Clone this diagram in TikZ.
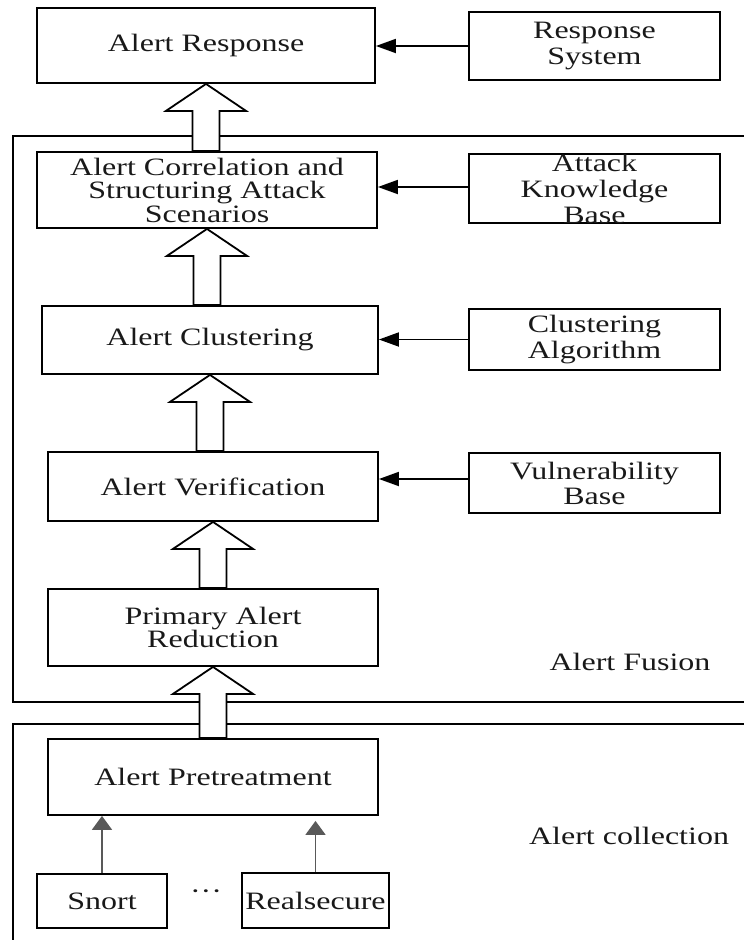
\documentclass[tikz,border=0pt]{standalone}
\usepackage{fontspec}
\setmainfont{Liberation Serif}[FakeStretch=1.28]
\usetikzlibrary{arrows.meta}

% hollow block arrow from the top of #1 up to the bottom of #2
\newcommand\hollowup[2]{%
  \path (#2.south) ++(13.5,27) coordinate (hR)
        (#2.south) ++(-13.5,27) coordinate (hL);
  \draw[hollow] (#2.south) -- ++(40,27) -- (hR) -- (hR |- #1.north)
    -- (hL |- #1.north) -- (hL) -- ++(-26.5,0) -- cycle;
}

\begin{document}
\begin{tikzpicture}[x=1pt,y=-1pt,
  every node/.style={font=\fontsize{25}{25}\selectfont, text=black!90},
  box/.style={draw, line width=1.8pt, inner sep=0pt, align=center},
  frameline/.style={line width=1.8pt},
  feed/.style={line width=1.8pt, -{Triangle[length=20pt,width=14pt]}},
  srcfeed/.style={line width=1.8pt, color=black!65, -{Triangle[length=14pt,width=20pt]}},
  hollow/.style={line width=1.8pt, fill=white, line join=miter},
]
\useasboundingbox (0,0) rectangle (744,940);

% group frames
\draw[frameline] (744,136) -- (13,136) -- (13,702) -- (744,702);
\draw[frameline] (744,724) -- (13,724) -- (13,940);

% processing chain
\node[box, minimum width=338pt, minimum height=75pt] (ar) at (206,45.5) {Alert Response};
\node[box, minimum width=340pt, minimum height=76pt, font=\fontsize{25}{23.5}\selectfont] (ac) at (207,190)
  {Alert Correlation and\\Structuring Attack\\Scenarios};
\node[box, minimum width=336pt, minimum height=68pt] (cl) at (210,340) {Alert Clustering};
\node[box, minimum width=330pt, minimum height=69pt] (av) at (213,486.5) {Alert Verification};
\node[box, minimum width=330pt, minimum height=77pt, font=\fontsize{25}{23.5}\selectfont] (par) at (213,627.5)
  {Primary Alert\\Reduction};
\node[box, minimum width=330pt, minimum height=76pt] (ap) at (213,777) {Alert Pretreatment};

% knowledge sources
\node[box, minimum width=251pt, minimum height=68pt, font=\fontsize{25}{26}\selectfont] (rs) at (594.5,46) {Response\\System};
\node[box, minimum width=251pt, minimum height=69pt, font=\fontsize{25}{26}\selectfont] (akb) at (594.5,188.5)
  {Attack\\Knowledge\\Base};
\node[box, minimum width=251pt, minimum height=61pt, font=\fontsize{25}{26}\selectfont] (ca) at (594.5,339.5)
  {Clustering\\Algorithm};
\node[box, minimum width=251pt, minimum height=60pt, font=\fontsize{25}{25}\selectfont] (vb) at (594.5,483)
  {Vulnerability\\Base};

% sensors
\node[box, minimum width=130pt, minimum height=54pt] (snort) at (102,901) {Snort};
\node[box, minimum width=147pt, minimum height=55pt] (real) at (315.5,900.5) {Realsecure};
\node (dots) at (206,895) {···};

% group labels
\node[anchor=base] (fusion) at (630,670) {Alert Fusion};
\node[anchor=base] (collect) at (629,844) {Alert collection};

% knowledge feeds
\draw[feed] (rs.west) -- (rs.west -| ar.east);
\draw[feed] ([yshift=1.5pt]akb.west) -- ([yshift=1.5pt]akb.west -| ac.east);
\draw[feed] (ca.west) -- (ca.west -| cl.east);
\draw[feed] ([yshift=4pt]vb.west) -- ([yshift=4pt]vb.west -| av.east);

% sensor feeds
\draw[srcfeed] (snort.north) -- (snort.north |- ap.south);
\draw[srcfeed, shorten >=5pt] (real.north) -- (real.north |- ap.south);

% main flow
\hollowup{ac}{ar}
\hollowup{cl}{ac}
\hollowup{av}{cl}
\hollowup{par}{av}
\hollowup{ap}{par}
\end{tikzpicture}
\end{document}
